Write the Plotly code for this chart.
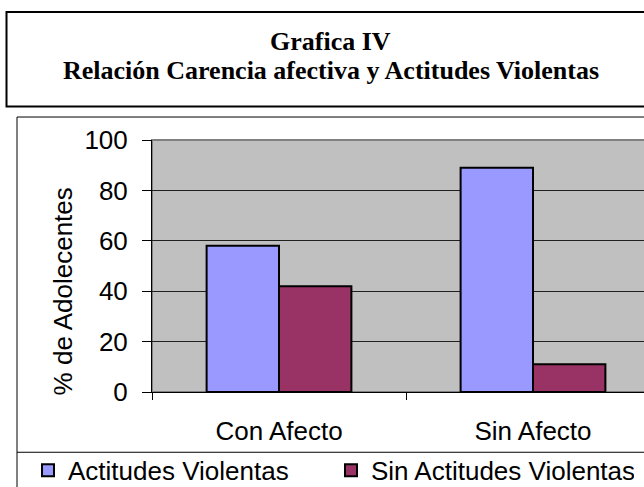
import plotly.graph_objects as go

categories = ["Con Afecto", "Sin Afecto"]
actitudes_violentas = [58, 89]
sin_actitudes_violentas = [42, 11]
y_ticks = [0, 20, 40, 60, 80, 100]
series_names = ["Actitudes Violentas", "Sin Actitudes Violentas"]
title_line1 = "Grafica IV"
title_line2 = "Relación Carencia afectiva y Actitudes Violentas"
y_title = "% de Adolecentes"

W, H = 644, 487
L, T, B = 152, 139.5, 487 - 391.7
plot_w = W - L
plot_h = H - T - B

def px(x):
    return (x - L) / plot_w

def py(y):
    return (H - B - y) / plot_h

SANS = "Liberation Sans, Arial, sans-serif"
SERIF = "Liberation Serif, Times New Roman, serif"

fig = go.Figure()
fig.add_trace(go.Bar(
    x=categories, y=actitudes_violentas, name=series_names[0],
    marker=dict(color="#9999FF", line=dict(color="#000000", width=2)),
))
fig.add_trace(go.Bar(
    x=categories, y=sin_actitudes_violentas, name=series_names[1],
    marker=dict(color="#993366", line=dict(color="#000000", width=2)),
))

shapes = [
    dict(type="rect", xref="paper", yref="paper", x0=0, x1=1.1, y0=0, y1=1,
         line=dict(color="#808080", width=2), layer="below"),
    dict(type="rect", xref="paper", yref="paper", x0=px(6.5), x1=px(700), y0=py(106), y1=py(11.5),
         line=dict(color="#000000", width=2)),
    dict(type="rect", xref="paper", yref="paper", x0=px(17), x1=px(700), y0=py(500), y1=py(116.5),
         line=dict(color="#000000", width=1)),
    dict(type="line", xref="paper", yref="paper", x0=px(17), x1=px(700), y0=py(452), y1=py(452),
         line=dict(color="#000000", width=1)),
]

annotations = [
    dict(text="<b>" + title_line1 + "</b>", xref="paper", yref="paper", x=px(330), y=py(40.5),
         xanchor="center", yanchor="middle", showarrow=False,
         font=dict(family=SERIF, size=26, color="#000000")),
    dict(text="<b>" + title_line2 + "</b>", xref="paper", yref="paper", x=px(331), y=py(69.5),
         xanchor="center", yanchor="middle", showarrow=False,
         font=dict(family=SERIF, size=26, color="#000000")),
    dict(text=y_title, xref="paper", yref="paper", x=px(63), y=py(291),
         xanchor="center", yanchor="middle", showarrow=False, textangle=-90,
         font=dict(family=SANS, size=26, color="#000000")),
]

fig.update_layout(
    width=W, height=H,
    margin=dict(l=L, r=0, t=T, b=B, pad=0, autoexpand=False),
    paper_bgcolor="#FFFFFF", plot_bgcolor="#C0C0C0",
    barmode="group", bargap=0.43, bargroupgap=0,
    font=dict(family=SANS, size=26, color="#000000"),
    shapes=shapes, annotations=annotations,
    showlegend=True,
    legend=dict(orientation="h", x=px(28), y=py(470), xanchor="left", yanchor="middle",
                font=dict(family=SANS, size=26, color="#000000"),
                bgcolor="rgba(0,0,0,0)", borderwidth=0,
                entrywidth=258, entrywidthmode="pixels", itemclick=False),
    xaxis=dict(
        type="category", range=[-0.5, 1.5 - (660 - 644) / 254], showgrid=False,
        showline=True, linecolor="#000000", linewidth=1, automargin=False,
        ticks="outside", tickson="boundaries", ticklen=7, tickcolor="#000000",
        ticklabelstandoff=16, tickfont=dict(family=SANS, size=26, color="#000000"),
        zeroline=False, fixedrange=True,
    ),
    yaxis=dict(
        range=[0, 100], tickvals=y_ticks, showgrid=True, gridcolor="#202020", gridwidth=1,
        showline=True, linecolor="#000000", linewidth=1, automargin=False,
        ticks="outside", ticklen=9, tickcolor="#000000",
        ticklabelstandoff=9, tickfont=dict(family=SANS, size=26, color="#000000"),
        zeroline=False, fixedrange=True,
    ),
)

fig.write_html(
    "out.html",
    config={"displayModeBar": False},
    post_script="document.body.style.margin='0px';document.body.style.overflow='hidden';",
)
